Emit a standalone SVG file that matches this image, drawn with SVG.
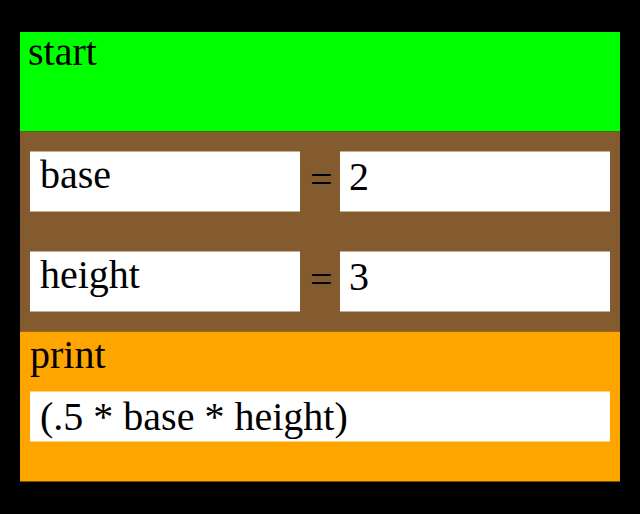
<svg xmlns="http://www.w3.org/2000/svg" width="640" height="514" viewBox="0 0 640 514">
  <style>
    text { font-family: "Liberation Serif", "Times New Roman", serif; font-size: 40px; fill: #000; }
    .field { fill: #fff; }
  </style>
  <rect x="0" y="0" width="640" height="514" fill="#000"/>
  <g id="start-block">
    <rect x="20" y="32" width="600" height="99.5" fill="#00ff00"/>
    <text x="28" y="65">start</text>
  </g>
  <g id="assign-block">
    <rect x="20" y="131.5" width="600" height="200" fill="#845b2f"/>
    <g id="assign-base">
      <rect class="field" x="30" y="151.5" width="270" height="60"/>
      <text x="40" y="188">base</text>
      <text x="310" y="193">=</text>
      <rect class="field" x="340" y="151.5" width="270" height="60"/>
      <text x="349" y="189.5">2</text>
    </g>
    <g id="assign-height">
      <rect class="field" x="30" y="251.5" width="270" height="60"/>
      <text x="40" y="288">height</text>
      <text x="310" y="293">=</text>
      <rect class="field" x="340" y="251.5" width="270" height="60"/>
      <text x="349" y="289.5">3</text>
    </g>
  </g>
  <g id="print-block">
    <rect x="20" y="331.5" width="600" height="150" fill="#ffa500"/>
    <text x="30" y="368">print</text>
    <rect class="field" x="30" y="391.5" width="580" height="50"/>
    <text x="40" y="430">(.5 * base * height)</text>
  </g>
  <g id="connectors"/>
</svg>
